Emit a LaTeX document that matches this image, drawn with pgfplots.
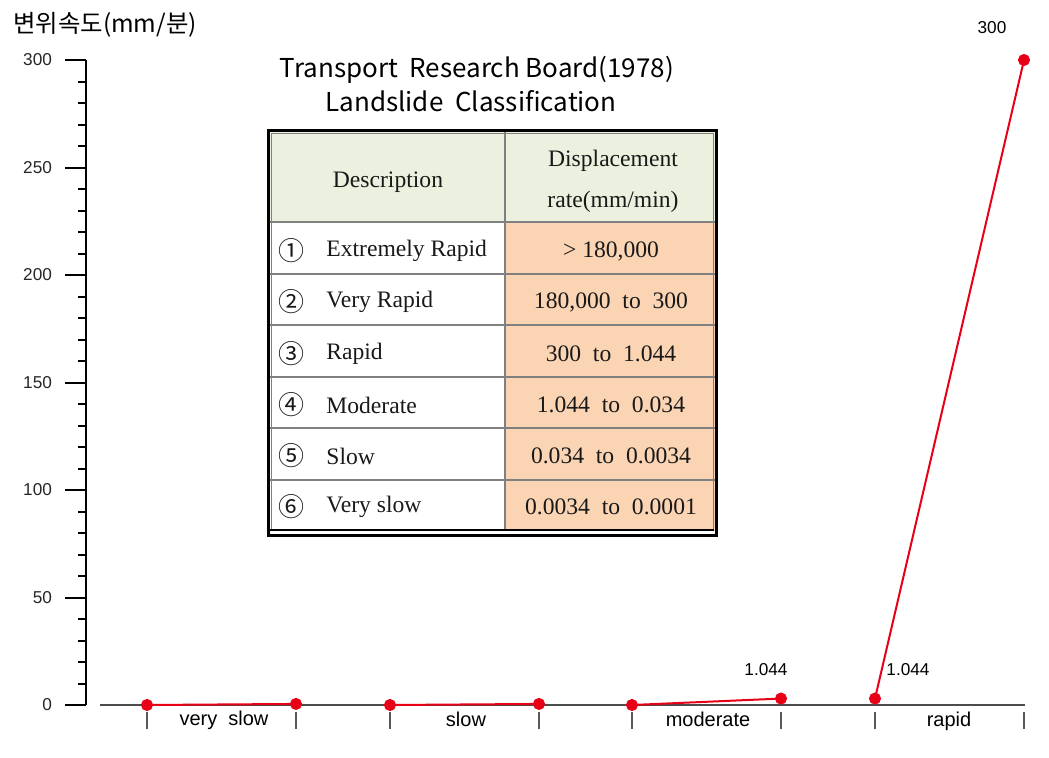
\documentclass[border=0pt]{standalone}
\usepackage{fontspec}
\setmainfont{Liberation Sans}
\newfontfamily\kr{Noto Sans CJK KR}
\newfontfamily\tabfont{Liberation Serif}
\usepackage{pgfplots}
\pgfplotsset{compat=1.18}
\definecolor{ptred}{RGB}{232,0,22}
\definecolor{hdrgreen}{RGB}{235,241,222}
\definecolor{peach}{RGB}{251,212,180}
\definecolor{cellgray}{RGB}{128,128,128}

\begin{document}
\begin{tikzpicture}
\begin{axis}[
  scale only axis, width=472pt, height=322.5pt,
  xmin=86, xmax=1030, ymin=0, ymax=300,
  axis x line=none, axis y line=left,
  y axis line style={-, black, line width=1pt},
  ytick={0,50,...,300}, minor y tick num=4,
  tick align=outside,
  major tick length=10.5pt, minor tick length=4pt,
  ytick style={black, line width=1pt},
  yticklabel style={font=\fontsize{8.6}{10}\selectfont, text=black!85, xshift=-3pt},
  /pgf/number format/assume math mode=true,
  clip=false,
]
  % baseline and segment ticks
  \addplot[draw=black!70, line width=0.75pt] coordinates {(100,0) (1025,0)};
  \pgfplotsinvokeforeach{147,296,390,539,632,781,875,1024}{
    \addplot[draw=black!65, line width=0.6pt] coordinates {(#1,-3.3) (#1,-11.2)};
  }
  % class segments
  \addplot[ptred, line width=1pt, mark=*, mark size=2.5pt] coordinates {(147,0) (296,0.5)};
  \addplot[ptred, line width=1pt, mark=*, mark size=2.5pt] coordinates {(390,0) (539,0.5)};
  \addplot[ptred, line width=1pt, mark=*, mark size=2.5pt] coordinates {(632,0) (781,3)};
  \addplot[ptred, line width=1pt, mark=*, mark size=2.5pt] coordinates {(875,3) (1024,300)};
  % value labels
  \node[font=\fontsize{8.6}{10}\selectfont] at (axis cs:766,16.3) {1.044};
  \node[font=\fontsize{8.6}{10}\selectfont] at (axis cs:908,16.3) {1.044};
  \node[font=\fontsize{8.6}{10}\selectfont] at (axis cs:992,315.3) {300};
  % class names
  \node[font=\fontsize{10}{12}\selectfont, anchor=base] at (axis cs:224,-9.3) {very\ \ slow};
  \node[font=\fontsize{10}{12}\selectfont, anchor=base] at (axis cs:466,-10.2) {slow};
  \node[font=\fontsize{10}{12}\selectfont, anchor=base] at (axis cs:708,-10.2) {moderate};
  \node[font=\fontsize{10}{12}\selectfont, anchor=base] at (axis cs:949,-10.2) {rapid};
\end{axis}

% annotations in pixel coordinates of the reference
\begin{scope}[shift={(-43pt,352.5pt)}, x=0.5pt, y=-0.5pt]
  \node[font=\kr\fontsize{12.2}{14}\selectfont] at (105,25) {변위속도(mm/분)};
  \node[font=\kr\fontsize{13}{15}\selectfont] at (477,70) {Transport\ \ Research Board(1978)};
  \node[font=\kr\fontsize{13}{15}\selectfont] at (471,101) {Landslide\ \ Classification};

  % table
  \fill[hdrgreen] (268,130) rectangle (716,222);
  \fill[peach] (505,222) rectangle (716,531);
  \foreach \yy in {222,274,325,377,428,480}
    \draw[cellgray, line width=0.7pt] (268,\yy) -- (716,\yy);
  \draw[cellgray, line width=0.7pt] (505,130) -- (505,531);
  \draw[cellgray, line width=0.4pt] (271,133) rectangle (713,530);
  \draw[black, line width=0.7pt] (270,530) -- (714,530);
  \draw[black, line width=1.5pt] (268,130) rectangle (716,535);

  \begin{scope}[every node/.style={font=\tabfont\fontsize{11.8}{14}\selectfont, text=black!90}]
    \node at (388,182) {Description};
    \node at (613,161) {Displacement};
    \node at (613,202) {rate(mm/min)};
    \node at (611,251) {> 180,000};
    \node at (611,302) {180,000\ \ to\ \ 300};
    \node at (611,354) {300\ \ to\ \ 1.044};
    \node at (611,405) {1.044\ \ to\ \ 0.034};
    \node at (611,456) {0.034\ \ to\ \ 0.0034};
    \node at (611,507) {0.0034\ \ to\ \ 0.0001};
    \node[anchor=west, inner sep=0pt] at (326,251) {Extremely Rapid};
    \node[anchor=west, inner sep=0pt] at (326,302) {Very Rapid};
    \node[anchor=west, inner sep=0pt] at (326,354) {Rapid};
    \node[anchor=west, inner sep=0pt] at (326,405) {Moderate};
    \node[anchor=west, inner sep=0pt] at (326,456) {Slow};
    \node[anchor=west, inner sep=0pt] at (326,507) {Very slow};
    \node[font=\kr\fontsize{13}{15}\selectfont] at (291,251) {①};
    \node[font=\kr\fontsize{13}{15}\selectfont] at (291,302) {②};
    \node[font=\kr\fontsize{13}{15}\selectfont] at (291,354) {③};
    \node[font=\kr\fontsize{13}{15}\selectfont] at (291,405) {④};
    \node[font=\kr\fontsize{13}{15}\selectfont] at (291,456) {⑤};
    \node[font=\kr\fontsize{13}{15}\selectfont] at (291,507) {⑥};
  \end{scope}
\end{scope}
\pgfresetboundingbox
\path (-43pt,-26pt) rectangle (481.5pt,352.5pt);
\end{tikzpicture}
\end{document}
